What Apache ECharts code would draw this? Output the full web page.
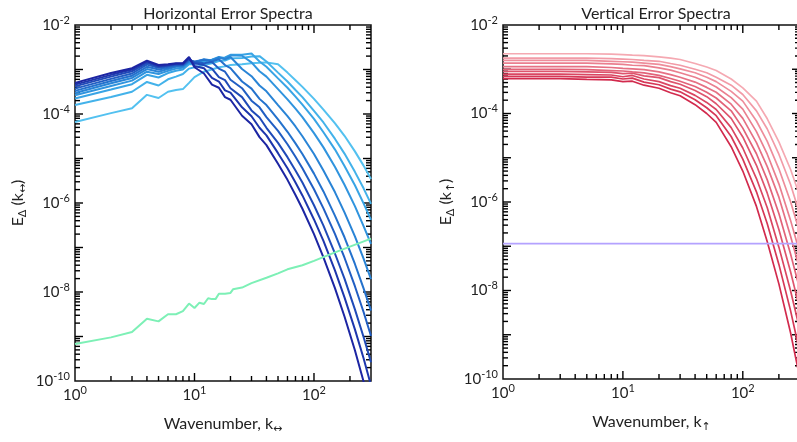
<!DOCTYPE html>
<html>
<head>
<meta charset="utf-8">
<script src="https://cdn.jsdelivr.net/npm/echarts@6/dist/echarts.min.js"></script>
<style>
html, body { margin: 0; padding: 0; background: #fff; }
#chart { width: 797px; height: 442px; }
</style>
</head>
<body>
<div id="chart"></div>
<script>
// values as log10(E)
var kH = [1, 2, 3, 4, 5, 6, 7, 8, 9, 10, 12, 14, 16, 18, 20, 25, 30, 35, 40, 50, 60, 70, 80, 100, 120, 150, 180, 220, 260, 300];
var blue0 = [-3.30, -3.08, -2.97, -2.80, -2.90, -2.88, -2.86, -2.86, -2.72, -2.95, -3.09, -3.34, -3.41, -3.62, -3.68, -4.04, -4.23, -4.52, -4.70, -5.12, -5.48, -5.82, -6.13, -6.70, -7.22, -7.92, -8.55, -9.31, -10.01, -10.64];
var blue1 = [-3.34, -3.12, -3.00, -2.82, -2.92, -2.90, -2.87, -2.87, -2.74, -2.92, -2.97, -3.19, -3.27, -3.47, -3.52, -3.85, -4.05, -4.31, -4.48, -4.88, -5.22, -5.54, -5.83, -6.37, -6.85, -7.52, -8.12, -8.84, -9.49, -10.10];
var blue2 = [-3.38, -3.16, -3.04, -2.85, -2.94, -2.91, -2.88, -2.88, -2.76, -2.86, -2.90, -2.98, -3.17, -3.24, -3.42, -3.62, -3.92, -4.08, -4.31, -4.65, -4.97, -5.27, -5.54, -6.05, -6.51, -7.14, -7.70, -8.39, -9.01, -9.58];
var blue3 = [-3.43, -3.21, -3.09, -2.89, -2.96, -2.93, -2.90, -2.90, -2.78, -2.83, -2.86, -2.83, -2.98, -3.05, -3.23, -3.42, -3.70, -3.85, -4.07, -4.38, -4.68, -4.96, -5.22, -5.69, -6.12, -6.70, -7.23, -7.87, -8.45, -8.99];
var blue4 = [-3.48, -3.26, -3.14, -2.94, -3.00, -2.96, -2.92, -2.91, -2.80, -2.82, -2.78, -2.82, -2.77, -2.90, -2.97, -3.27, -3.43, -3.66, -3.80, -4.12, -4.40, -4.66, -4.90, -5.34, -5.74, -6.29, -6.77, -7.37, -7.92, -8.42];
var blue5 = [-3.53, -3.31, -3.19, -2.99, -3.05, -2.99, -2.94, -2.93, -2.82, -2.84, -2.77, -2.80, -2.73, -2.77, -2.72, -2.99, -3.15, -3.36, -3.49, -3.80, -4.05, -4.28, -4.50, -4.90, -5.27, -5.76, -6.21, -6.75, -7.25, -7.71];
var blue6 = [-3.58, -3.37, -3.25, -3.05, -3.10, -3.03, -2.98, -2.96, -2.85, -2.86, -2.79, -2.78, -2.72, -2.75, -2.68, -2.69, -2.84, -3.04, -3.16, -3.44, -3.67, -3.88, -4.07, -4.43, -4.75, -5.19, -5.59, -6.07, -6.52, -6.92];
var blue7 = [-3.65, -3.45, -3.33, -3.12, -3.18, -3.08, -3.03, -3.00, -2.88, -2.88, -2.82, -2.78, -2.74, -2.73, -2.67, -2.67, -2.64, -2.82, -2.94, -3.20, -3.41, -3.61, -3.79, -4.11, -4.41, -4.80, -5.17, -5.60, -6.01, -6.38];
var blue8 = [-3.80, -3.62, -3.50, -3.28, -3.36, -3.22, -3.16, -3.10, -2.98, -2.95, -2.90, -2.86, -2.81, -2.80, -2.75, -2.74, -2.71, -2.70, -2.82, -3.07, -3.27, -3.46, -3.62, -3.93, -4.19, -4.56, -4.89, -5.30, -5.67, -6.02];
var blue9 = [-4.18, -3.98, -3.87, -3.57, -3.64, -3.50, -3.46, -3.44, -3.30, -3.17, -3.05, -3.00, -2.95, -2.93, -2.90, -2.88, -2.86, -2.85, -2.84, -2.88, -3.07, -3.24, -3.39, -3.66, -3.90, -4.21, -4.49, -4.84, -5.16, -5.46];
var blueColors = ['#1c25a3', '#1d36ad', '#1f4ab8', '#215ec3', '#2472cd', '#2984d6', '#3094de', '#38a4e5', '#43b2ea', '#53c1f0'];

var kGreen = [1, 2, 3, 4, 5, 6, 7, 8, 9, 10, 11, 12, 13, 14, 15, 16, 18, 20, 21, 25, 30, 40, 50, 60, 80, 100, 150, 200, 300];
var green = [-9.17, -9.02, -8.90, -8.60, -8.66, -8.50, -8.50, -8.43, -8.26, -8.36, -8.24, -8.27, -8.14, -8.16, -8.16, -8.04, -8.04, -8.02, -7.94, -7.90, -7.80, -7.68, -7.58, -7.49, -7.40, -7.30, -7.11, -6.98, -6.80];

var kV = [1, 2, 3, 5, 8, 10, 12, 15, 20, 25, 30, 40, 50, 60, 80, 100, 130, 160, 200, 250, 300];
var red0 = [-2.65, -2.65, -2.65, -2.65, -2.66, -2.67, -2.68, -2.69, -2.72, -2.75, -2.78, -2.87, -2.95, -3.03, -3.22, -3.42, -3.72, -4.12, -4.64, -5.26, -5.88];
var red1 = [-2.75, -2.75, -2.75, -2.75, -2.76, -2.77, -2.78, -2.80, -2.82, -2.87, -2.91, -3.00, -3.08, -3.18, -3.36, -3.57, -3.94, -4.35, -4.92, -5.60, -6.29];
var red2 = [-2.80, -2.80, -2.80, -2.80, -2.82, -2.83, -2.84, -2.86, -2.89, -2.94, -2.99, -3.08, -3.18, -3.28, -3.50, -3.72, -4.17, -4.63, -5.25, -5.99, -6.71];
var red3 = [-2.86, -2.86, -2.86, -2.86, -2.88, -2.89, -2.91, -2.92, -2.97, -3.02, -3.08, -3.18, -3.29, -3.40, -3.64, -3.90, -4.41, -4.92, -5.59, -6.41, -7.17];
var red4 = [-2.94, -2.94, -2.94, -2.94, -2.96, -2.98, -2.99, -3.01, -3.06, -3.12, -3.18, -3.29, -3.41, -3.52, -3.79, -4.11, -4.66, -5.20, -5.89, -6.77, -7.54];
var red5 = [-3.00, -3.00, -3.00, -3.01, -3.03, -3.04, -3.06, -3.08, -3.14, -3.21, -3.27, -3.39, -3.52, -3.65, -3.94, -4.33, -4.91, -5.50, -6.26, -7.17, -7.99];
var red6 = [-3.05, -3.05, -3.05, -3.06, -3.07, -3.10, -3.09, -3.15, -3.19, -3.28, -3.34, -3.48, -3.62, -3.78, -4.11, -4.53, -5.17, -5.80, -6.62, -7.57, -8.44];
var red7 = [-3.11, -3.11, -3.11, -3.12, -3.13, -3.17, -3.14, -3.22, -3.28, -3.37, -3.43, -3.59, -3.75, -3.91, -4.32, -4.78, -5.47, -6.13, -7.02, -8.00, -8.90];
var red8 = [-3.16, -3.16, -3.16, -3.18, -3.18, -3.22, -3.20, -3.29, -3.35, -3.45, -3.51, -3.69, -3.87, -4.05, -4.52, -5.03, -5.77, -6.49, -7.41, -8.45, -9.42];
var red9 = [-3.21, -3.21, -3.21, -3.23, -3.24, -3.28, -3.27, -3.36, -3.43, -3.53, -3.60, -3.80, -4.00, -4.20, -4.75, -5.30, -6.10, -6.90, -7.85, -8.95, -10.00];
var redColors = ['#f5a9b2', '#f29ba7', '#ee8d9b', '#ea7f8f', '#e67184', '#e26379', '#de546d', '#da4662', '#d63857', '#d22a4d'];

var kFlat = [1, 300];
var purple = [-6.94, -6.94];

var xMajor = [10, 100];
var xMinor = [2, 3, 4, 5, 6, 7, 8, 9, 20, 30, 40, 50, 60, 70, 80, 90, 200];
var yDecades = [-10, -9, -8, -7, -6, -5, -4, -3];
var mantissas = [2, 3, 4, 5, 6, 7, 8, 9];

var X_MIN = 1, X_MAX = 300, Y_MIN = 1e-10, Y_MAX = 1e-2;
var FONT = 'Lato';

var yMajor = [], yMinor = [];
yDecades.forEach(function (e) {
  if (e > -10) yMajor.push(Math.pow(10, e));
  mantissas.forEach(function (m) { yMinor.push(m * Math.pow(10, e)); });
});

function pairs(ks, logs) {
  return ks.map(function (k, i) { return [k, Math.pow(10, logs[i])]; });
}

function powLabel(v, evenOnly) {
  var e = Math.log10(v);
  var r = Math.round(e);
  if (Math.abs(e - r) > 1e-6) return '';
  if (evenOnly && r % 2 !== 0) return '';
  return '{b|10}{s|' + r + '}';
}

var labelRich = {
  b: { fontFamily: FONT, fontSize: 15, color: '#222' },
  s: { fontFamily: FONT, fontSize: 11, color: '#222', padding: [0, 0, 10, 0] }
};
var nameRich = {
  n: { fontFamily: FONT, fontSize: 16, color: '#222' },
  sub: { fontFamily: 'DejaVu Sans', fontSize: 11, color: '#222', padding: [11, 0, 0, 0] }
};

function xAxisFor(gi, name) {
  return {
    type: 'log', gridIndex: gi, min: X_MIN, max: X_MAX, logBase: 10,
    axisLine: { show: false }, axisTick: { show: false }, splitLine: { show: false },
    axisLabel: { margin: 4, formatter: function (v) { return powLabel(v, false); }, rich: labelRich },
    name: name, nameLocation: 'middle', nameGap: 32,
    nameTextStyle: { rich: nameRich }
  };
}

function yAxisFor(gi, name) {
  return {
    type: 'log', gridIndex: gi, min: Y_MIN, max: Y_MAX, logBase: 10,
    axisLine: { show: false }, axisTick: { show: false }, splitLine: { show: false },
    axisLabel: { margin: 5, formatter: function (v) { return powLabel(v, true); }, rich: labelRich },
    name: name, nameLocation: 'middle', nameRotate: 90, nameGap: 46,
    nameTextStyle: { rich: nameRich }
  };
}

var series = [];
var blues = [blue0, blue1, blue2, blue3, blue4, blue5, blue6, blue7, blue8, blue9];
for (var i = blues.length - 1; i >= 0; i--) {
  series.push({
    type: 'line', xAxisIndex: 0, yAxisIndex: 0, data: pairs(kH, blues[i]),
    showSymbol: false, lineStyle: { width: 2, color: blueColors[i] }, z: 3
  });
}
series.push({
  type: 'line', xAxisIndex: 0, yAxisIndex: 0, data: pairs(kGreen, green),
  showSymbol: false, lineStyle: { width: 2, color: '#7df0b6' }, z: 4
});

var reds = [red0, red1, red2, red3, red4, red5, red6, red7, red8, red9];
for (var j = 0; j < reds.length; j++) {
  series.push({
    type: 'line', xAxisIndex: 1, yAxisIndex: 1, data: pairs(kV, reds[j]),
    showSymbol: false, lineStyle: { width: 1.7, color: redColors[j] }, z: 3
  });
}
series.push({
  type: 'line', xAxisIndex: 1, yAxisIndex: 1, data: pairs(kFlat, purple),
  showSymbol: false, lineStyle: { width: 1.6, color: '#b4a2ff' }, z: 4
});

var chart = echarts.init(document.getElementById('chart'), null, { renderer: 'canvas' });
chart.setOption({
  animation: false,
  backgroundColor: '#fff',
  title: [
    { text: 'Horizontal Error Spectra', left: 223, top: 1, textAlign: 'center',
      textStyle: { fontFamily: FONT, fontSize: 16, fontWeight: 'normal', color: '#222' } },
    { text: 'Vertical Error Spectra', left: 651, top: 1, textAlign: 'center',
      textStyle: { fontFamily: FONT, fontSize: 16, fontWeight: 'normal', color: '#222' } }
  ],
  grid: [
    { left: 75, top: 25, width: 296, height: 356, outerBoundsMode: 'none', show: true, borderColor: '#111', borderWidth: 1.5 },
    { left: 503, top: 25, width: 297, height: 354, outerBoundsMode: 'none', show: true, borderColor: '#111', borderWidth: 1.5 }
  ],
  xAxis: [
    xAxisFor(0, '{n|Wavenumber, k}{sub|↔}'),
    xAxisFor(1, '{n|Wavenumber, k}{sub|↑}')
  ],
  yAxis: [
    yAxisFor(0, '{n|E}{sub|Δ}{n| (k}{sub|↔}{n|)}'),
    yAxisFor(1, '{n|E}{sub|Δ}{n| (k}{sub|↑}{n|)}')
  ],
  series: series
});

// inward ticks on all four sides, placed through the axes' own scales
var marks = [];
[0, 1].forEach(function (g) {
  var finder = { xAxisIndex: g, yAxisIndex: g };
  function seg(p, dx, dy) {
    marks.push({
      type: 'line', silent: true,
      shape: { x1: p[0], y1: p[1], x2: p[0] + dx, y2: p[1] + dy },
      style: { stroke: '#000', lineWidth: 1.4 }
    });
  }
  xMajor.forEach(function (v) {
    seg(chart.convertToPixel(finder, [v, Y_MIN]), 0, -8);
    seg(chart.convertToPixel(finder, [v, Y_MAX]), 0, 8);
  });
  xMinor.forEach(function (v) {
    seg(chart.convertToPixel(finder, [v, Y_MIN]), 0, -5);
    seg(chart.convertToPixel(finder, [v, Y_MAX]), 0, 5);
  });
  yMajor.forEach(function (v) {
    seg(chart.convertToPixel(finder, [X_MIN, v]), 8, 0);
    seg(chart.convertToPixel(finder, [X_MAX, v]), -8, 0);
  });
  yMinor.forEach(function (v) {
    seg(chart.convertToPixel(finder, [X_MIN, v]), 5, 0);
    seg(chart.convertToPixel(finder, [X_MAX, v]), -5, 0);
  });
});
chart.setOption({ graphic: marks });
</script>
</body>
</html>
